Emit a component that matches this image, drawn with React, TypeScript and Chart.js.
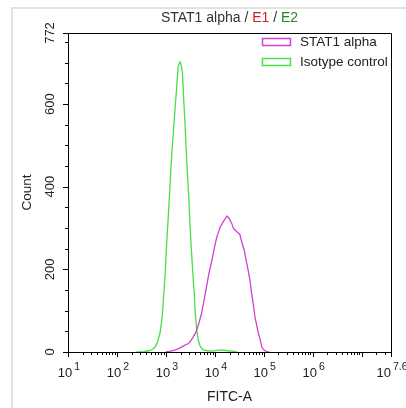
import React, { useEffect, useRef } from "react";
import { Chart, registerables } from "chart.js";

Chart.register(...registerables);

// ---- Data (x in log10 of FITC-A intensity, y = count) ----
const isotypeLog = [2.40, 2.55, 2.65, 2.72, 2.78, 2.83, 2.88, 2.92, 2.95, 2.99, 3.02, 3.05, 3.08, 3.11, 3.14, 3.17, 3.19, 3.22, 3.25, 3.27, 3.29, 3.31, 3.34, 3.36, 3.39, 3.41, 3.44, 3.47, 3.49, 3.52, 3.55, 3.58, 3.60, 3.63, 3.66, 3.70, 3.76, 3.85, 3.95, 4.05, 4.15, 4.25, 4.35, 4.45];
const isotypeCount = [0, 1, 3, 6, 12, 25, 46, 80, 126, 200, 271, 330, 392, 460, 513, 560, 593, 640, 690, 698, 702, 695, 675, 620, 554, 500, 433, 370, 312, 250, 191, 140, 94, 55, 29, 14, 5, 3, 2, 4, 5, 3, 2, 0];

const stat1Log = [3.00, 3.10, 3.20, 3.29, 3.38, 3.45, 3.49, 3.55, 3.60, 3.63, 3.68, 3.73, 3.78, 3.83, 3.88, 3.94, 3.99, 4.04, 4.08, 4.11, 4.14, 4.17, 4.21, 4.25, 4.28, 4.31, 4.35, 4.38, 4.41, 4.46, 4.51, 4.56, 4.60, 4.64, 4.68, 4.72, 4.75, 4.79, 4.82, 4.86, 4.89, 4.93, 4.96, 5.01, 5.06, 5.12];
const stat1Count = [0, 2, 5, 10, 16, 20, 24, 35, 45, 53, 72, 94, 125, 158, 190, 222, 252, 278, 292, 303, 308, 315, 322, 329, 325, 319, 310, 299, 296, 290, 285, 262, 247, 222, 198, 172, 143, 112, 85, 62, 46, 28, 12, 4, 1, 0];

const seriesNames = ["STAT1 alpha", "Isotype control"];
const seriesColors = ["#d43fd4", "#48de48"];

const xMin = 1;
const xMax = 7.6;
const xMajorTicks = [1, 2, 3, 4, 5, 6, 7, 7.6];
const xTickLabels = ["1", "2", "3", "4", "5", "6", "", "7.6"];
const yMin = 0;
const yMax = 772;
const yMajorTicks = [0, 200, 400, 600, 772];
const yTickLabels = ["0", "200", "400", "600", "772"];
const yMinorStep = 50;

const titleParts = [
  { text: "STAT1 alpha / ", color: "#333333" },
  { text: "E1", color: "#d02020" },
  { text: " / ", color: "#333333" },
  { text: "E2", color: "#1f8a1f" },
];
const xTitle = "FITC-A";
const yTitle = "Count";

const FONT = "'Liberation Sans', Arial, sans-serif";

const decorPlugin = {
  id: "decor",
  beforeDraw(chart: any) {
    const ctx = chart.ctx;
    ctx.save();
    ctx.strokeStyle = "#e2e2e2";
    ctx.lineWidth = 2;
    ctx.beginPath();
    ctx.moveTo(12, 408);
    ctx.lineTo(12, 8);
    ctx.lineTo(406, 8);
    ctx.stroke();
    ctx.restore();
  },
  afterDraw(chart: any) {
    const ctx = chart.ctx;
    const { left, right, top, bottom } = chart.chartArea;
    const xs = chart.scales.x;
    const ys = chart.scales.y;
    ctx.save();
    ctx.strokeStyle = "#000";
    ctx.lineWidth = 1;
    // box
    ctx.beginPath();
    ctx.rect(Math.round(left) + 0.5, Math.round(top) + 0.5, Math.round(right - left), Math.round(bottom - top));
    ctx.stroke();

    // y ticks
    ctx.beginPath();
    for (let v = yMin; v <= yMax; v += yMinorStep) {
      const py = Math.round(ys.getPixelForValue(v)) + 0.5;
      ctx.moveTo(left - 3, py);
      ctx.lineTo(left, py);
    }
    yMajorTicks.forEach((v) => {
      const py = Math.round(ys.getPixelForValue(v)) + 0.5;
      ctx.moveTo(left - 5, py);
      ctx.lineTo(left, py);
    });
    ctx.stroke();

    // x ticks
    ctx.beginPath();
    for (let d = Math.floor(xMin); d < xMax; d++) {
      for (let k = 2; k <= 9; k++) {
        const v = d + Math.log10(k);
        if (v > xMax) break;
        const px = Math.round(xs.getPixelForValue(v)) + 0.5;
        ctx.moveTo(px, bottom);
        ctx.lineTo(px, bottom + 3);
      }
    }
    xMajorTicks.forEach((v) => {
      const px = Math.round(xs.getPixelForValue(v)) + 0.5;
      ctx.moveTo(px, bottom);
      ctx.lineTo(px, bottom + 5);
    });
    ctx.stroke();

    // x tick labels: 10^n
    ctx.fillStyle = "#222";
    ctx.textBaseline = "alphabetic";
    xMajorTicks.forEach((v, i) => {
      const exp = xTickLabels[i];
      if (!exp) return;
      const px = xs.getPixelForValue(v);
      ctx.font = `13px ${FONT}`;
      const wBase = ctx.measureText("10").width;
      ctx.font = `10.5px ${FONT}`;
      const wExp = ctx.measureText(exp).width;
      const gap = 2;
      const total = wBase + gap + wExp;
      const x0 = px - total / 2 + 1;
      ctx.font = `13px ${FONT}`;
      ctx.textAlign = "left";
      ctx.fillText("10", x0, 377);
      ctx.font = `10.5px ${FONT}`;
      ctx.fillText(exp, x0 + wBase + gap, 370);
    });

    // y tick labels (rotated)
    ctx.font = `13px ${FONT}`;
    ctx.textAlign = "center";
    ctx.textBaseline = "middle";
    yMajorTicks.forEach((v, i) => {
      const py = ys.getPixelForValue(v);
      ctx.save();
      ctx.translate(50, py);
      ctx.rotate(-Math.PI / 2);
      ctx.fillText(yTickLabels[i], 0, 0);
      ctx.restore();
    });

    // axis titles
    ctx.font = `14px ${FONT}`;
    ctx.fillText(xTitle, (left + right) / 2, 397);
    ctx.save();
    ctx.translate(27, (top + bottom) / 2);
    ctx.rotate(-Math.PI / 2);
    ctx.font = `13.5px ${FONT}`;
    ctx.fillText(yTitle, 0, 0);
    ctx.restore();

    // title
    ctx.font = `14px ${FONT}`;
    ctx.textAlign = "left";
    const widths = titleParts.map((p) => ctx.measureText(p.text).width);
    const tw = widths.reduce((a, b) => a + b, 0);
    let tx = (left + right) / 2 - tw / 2;
    titleParts.forEach((p, i) => {
      ctx.fillStyle = p.color;
      ctx.fillText(p.text, tx, 18);
      tx += widths[i];
    });

    // legend
    ctx.save();
    ctx.beginPath();
    ctx.rect(left, top, right - left, bottom - top);
    ctx.clip();
    ctx.font = `13.5px ${FONT}`;
    ctx.textBaseline = "middle";
    seriesNames.forEach((name, i) => {
      const cy = 42 + i * 20;
      ctx.strokeStyle = seriesColors[i];
      ctx.lineWidth = 1.5;
      ctx.fillStyle = "#fff";
      ctx.fillRect(262, cy - 3.5, 29, 7);
      ctx.strokeRect(262.5, cy - 3.5, 28, 7);
      ctx.fillStyle = "#222";
      ctx.fillText(name, 300, cy);
    });
    ctx.restore();

    ctx.restore();
  },
};

export default function App() {
  const ref = useRef<HTMLCanvasElement>(null);
  useEffect(() => {
    if (!ref.current) return;
    const chart = new Chart(ref.current, {
      type: "line",
      data: {
        datasets: [
          {
            label: seriesNames[0],
            data: stat1Log.map((x, i) => ({ x, y: stat1Count[i] })),
            borderColor: seriesColors[0],
            borderWidth: 1.3,
            pointRadius: 0,
            tension: 0,
            fill: false,
          },
          {
            label: seriesNames[1],
            data: isotypeLog.map((x, i) => ({ x, y: isotypeCount[i] })),
            borderColor: seriesColors[1],
            borderWidth: 1.3,
            pointRadius: 0,
            tension: 0,
            fill: false,
          },
        ],
      },
      options: {
        animation: false,
        responsive: false,
        layout: { padding: { left: 68, top: 33, right: 15, bottom: 56 } },
        plugins: { legend: { display: false }, title: { display: false }, tooltip: { enabled: false } },
        scales: {
          x: { type: "linear", min: xMin, max: xMax, display: false },
          y: { type: "linear", min: yMin, max: yMax, display: false },
        },
      },
      plugins: [decorPlugin],
    });
    return () => chart.destroy();
  }, []);
  return (
    <div style={{ position: "absolute", left: 0, top: 0, width: 406, height: 408, background: "#fff" }}>
      <canvas ref={ref} width={406} height={408} style={{ display: "block" }} />
    </div>
  );
}
